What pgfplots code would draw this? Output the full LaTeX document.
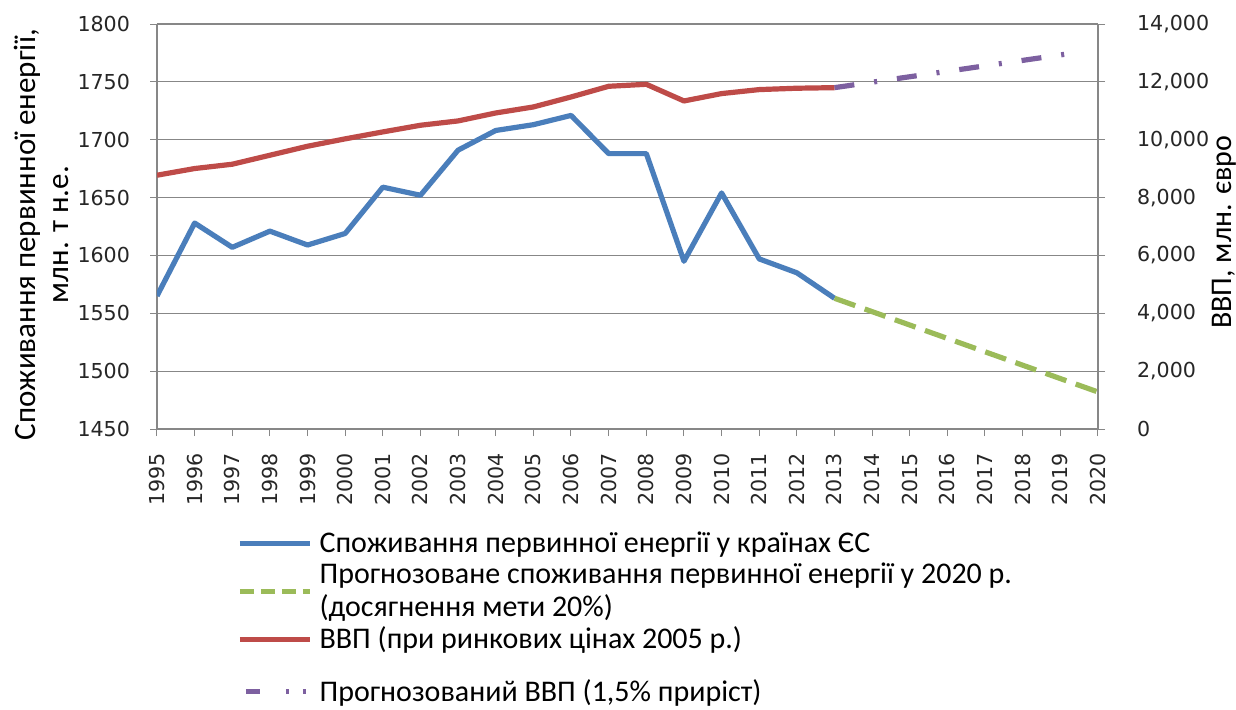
\documentclass[border=0pt]{standalone}
\usepackage{pgfplots}
\pgfplotsset{compat=1.18}
\usepackage{fontspec}
\setmainfont{Carlito}
\newfontfamily\tickfont{DejaVu Sans}
\definecolor{cblue}{HTML}{4A7EBB}
\definecolor{cred}{HTML}{BE4B48}
\definecolor{cgreen}{HTML}{9BBB59}
\definecolor{cpurple}{HTML}{7D60A0}
\definecolor{cgrid}{HTML}{878787}

\begin{document}
\begin{tikzpicture}
\path[use as bounding box] (-78.5pt,-140pt) rectangle (539.5pt,214.5pt);
\pgfplotsset{
  common/.style={
    scale only axis, width=470.5pt, height=202.5pt,
    xmin=1995, xmax=2020,
    /pgf/number format/assume math mode=true,
    tick label style={font=\tickfont\fontsize{10.3}{12}\selectfont, text=black!85},
    tick align=outside,
    major tick length=3.5pt,
    every tick/.style={cgrid, line width=0.5pt},
    axis line style={cgrid, line width=0.6pt},
    legend cell align=left,
    legend image code/.code={\draw[##1] (0pt,0pt) -- (35pt,0pt);},
  },
  mylegend/.style={draw=none, fill=none,
    inner sep=0pt, font=\fontsize{15}{15}\selectfont, row sep=1.5pt,
    nodes={align=left, inner xsep=3.5pt, inner ysep=1pt}},
}
\begin{axis}[common,
  ymin=1450, ymax=1800, ytick={1450,1500,...,1800},
  axis x line*=bottom, axis y line*=left,
  xtick={1995,...,2020},
  x tick label style={rotate=90, anchor=east},
  xticklabel shift=5pt,
  yticklabel shift=6.5pt,
  xticklabel style={/pgf/number format/1000 sep={}},
  yticklabel style={/pgf/number format/1000 sep={}},
  ymajorgrids, grid style={cgrid, line width=0.6pt},
  ylabel={Споживання первинної енергії,\\млн. т н.е.},
  ylabel style={align=center, font=\fontsize{15.5}{16.5}\selectfont, at={(-0.086,0.48)}},
  legend style={mylegend, at={(0.085,-0.649)}, anchor=west},
]
\addlegendimage{cpurple, line width=2.6pt, dash pattern=on 0pt off 3pt on 7pt off 13pt on 1.5pt off 7pt on 1.5pt off 10pt}
\addlegendentry{Прогнозований ВВП (1,5\% приріст)}
\addplot[cblue, line width=2.6pt, line join=round] coordinates {
(1995,1565) (1996,1628) (1997,1607) (1998,1621) (1999,1609) (2000,1619)
(2001,1659) (2002,1652) (2003,1691) (2004,1708) (2005,1713) (2006,1721)
(2007,1688) (2008,1688) (2009,1595) (2010,1654) (2011,1597) (2012,1585)
(2013,1563)};
\addplot[cgreen, line width=2.6pt, dash pattern=on 11pt off 5pt] coordinates {
(2013,1563) (2020,1482)};
\end{axis}
\begin{axis}[common,
  ymin=0, ymax=14000, ytick={0,2000,...,14000},
  axis x line=none, axis y line*=right,
  yticklabel shift=12.5pt,
  yticklabel style={/pgf/number format/1000 sep={,}},
  scaled y ticks=false,
  ylabel={ВВП, млн. євро},
  ylabel style={font=\fontsize{15}{16.5}\selectfont, anchor=center, at={(1.134,0.486)}},
  legend style={mylegend, at={(0.085,-0.248)}, anchor=north west},
]
\addlegendimage{cblue, line width=2.6pt}
\addlegendentry{\strut Споживання первинної енергії у країнах ЄС}
\addlegendimage{cgreen, line width=2.6pt, dash pattern=on 7pt off 3.5pt}
\addlegendentry{\strut Прогнозоване споживання первинної енергії у 2020 р.\\\strut(досягнення мети 20\%)}
\addlegendimage{cred, line width=2.6pt}
\addlegendentry{\strut ВВП (при ринкових цінах 2005 р.)}
\addplot[cred, line width=2.6pt, line join=round, forget plot] coordinates {
(1995,8773) (1996,9004) (1997,9153) (1998,9464) (1999,9775) (2000,10030)
(2001,10270) (2002,10500) (2003,10650) (2004,10925) (2005,11133) (2006,11478)
(2007,11847) (2008,11916) (2009,11340) (2010,11595) (2011,11733) (2012,11780)
(2013,11800)};
\addplot[cpurple, line width=2.6pt, dash pattern=on 10pt off 10pt on 1.5pt off 10pt, forget plot] coordinates {
(2013,11800) (2019.1,12950)};
\end{axis}
\end{tikzpicture}
\end{document}
